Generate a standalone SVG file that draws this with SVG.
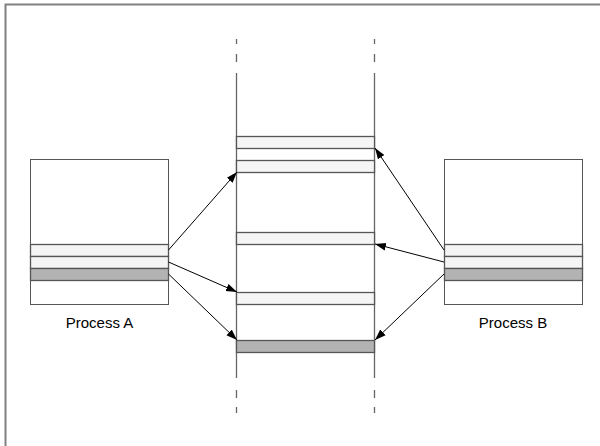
<svg xmlns="http://www.w3.org/2000/svg" width="600" height="446" viewBox="0 0 600 446">
<style>
.box{fill:#fff;stroke:#555;stroke-width:1}
.lt{fill:#f5f5f5;stroke:#555;stroke-width:1.3}
.dk{fill:#b3b3b3;stroke:#555;stroke-width:1.3}
.lbl{font-family:"Liberation Sans",Arial,sans-serif;font-size:15px;fill:#000;text-anchor:middle}
.rail{stroke:#666;stroke-width:1.3;fill:none}
.arr{stroke:#000;stroke-width:1;fill:none;marker-end:url(#ah)}
</style>
<defs>
<marker id="ah" viewBox="0 0 10 10" refX="10" refY="5" markerWidth="11" markerHeight="11" markerUnits="userSpaceOnUse" orient="auto">
<path d="M0,1.5 L10,5 L0,8.5 Z" fill="#000"/>
</marker>
</defs>
<rect x="5.5" y="4.5" width="600" height="450" fill="#fff" stroke="#808080" stroke-width="2"/>
<g id="shared">
<path class="rail" d="M236.5,73 V378 M374.5,73 V378"/>
<path class="rail" d="M236.5,39 V44 M236.5,54 V62 M374.5,39 V44 M374.5,54 V62 M236.5,390 V398 M236.5,407 V413 M374.5,390 V398 M374.5,407 V413"/>
<rect class="lt" x="236.5" y="136.5" width="138" height="12"/>
<rect class="lt" x="236.5" y="160.5" width="138" height="12"/>
<rect class="lt" x="236.5" y="232.5" width="138" height="12"/>
<rect class="lt" x="236.5" y="292.5" width="138" height="12"/>
<rect class="dk" x="236.5" y="340.5" width="138" height="12"/>
</g>
<g id="processA">
<rect class="box" x="30.5" y="159.5" width="138" height="145"/>
<rect class="lt" x="30.5" y="244.5" width="138" height="12"/>
<rect class="lt" x="30.5" y="256.5" width="138" height="12"/>
<rect class="dk" x="30.5" y="268.5" width="138" height="12"/>
<text class="lbl" x="99.5" y="328">Process A</text>
</g>
<g id="processB">
<rect class="box" x="444.5" y="159.5" width="138" height="145"/>
<rect class="lt" x="444.5" y="244.5" width="138" height="12"/>
<rect class="lt" x="444.5" y="256.5" width="138" height="12"/>
<rect class="dk" x="444.5" y="268.5" width="138" height="12"/>
<text class="lbl" x="513" y="328">Process B</text>
</g>
<g id="connectors">
<line class="arr" x1="168.5" y1="250" x2="237" y2="172"/>
<line class="arr" x1="168.5" y1="262" x2="237" y2="292"/>
<line class="arr" x1="168.5" y1="274" x2="237" y2="340"/>
<line class="arr" x1="444" y1="250" x2="375" y2="148"/>
<line class="arr" x1="444" y1="262" x2="375" y2="244"/>
<line class="arr" x1="444" y1="274" x2="375" y2="340"/>
</g>
</svg>
